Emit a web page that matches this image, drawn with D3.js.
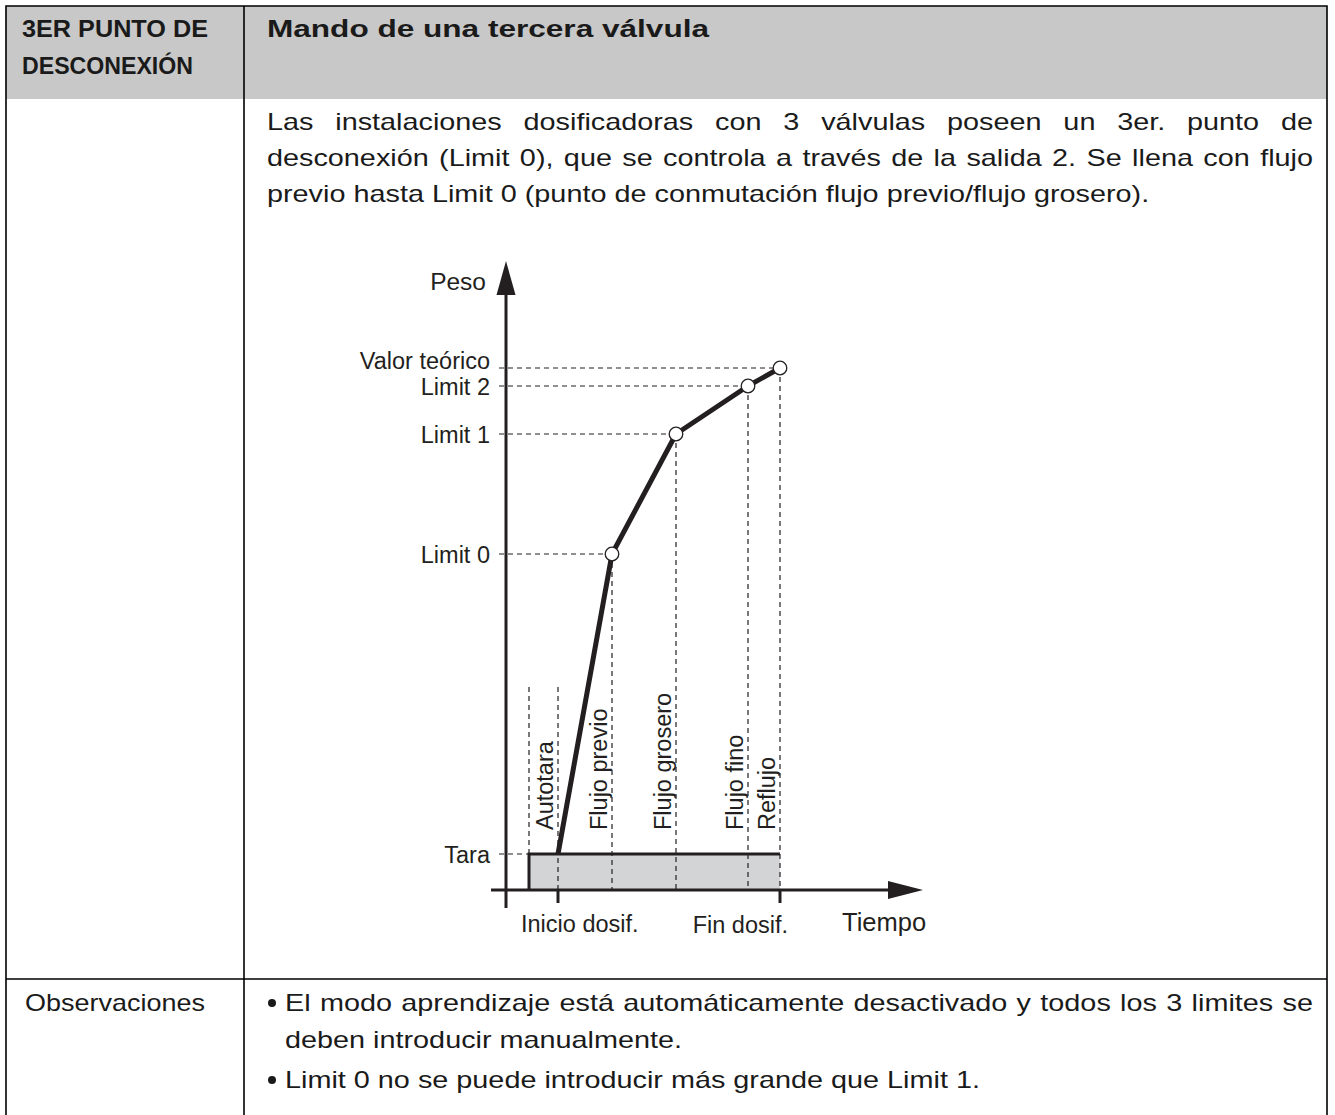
<!DOCTYPE html>
<html>
<head>
<meta charset="utf-8">
<script src="https://cdn.jsdelivr.net/npm/d3@7"></script>
<style>
  body { margin: 0; background: #fff; }
  svg text { fill: #1a1a1a; }
  .hdr { font-family: "Liberation Sans", Arial, sans-serif; font-weight: bold; font-size: 24px; }
  .body { font-family: "Liberation Sans", Arial, sans-serif; font-size: 24px; }
  .dia { font-family: "Liberation Sans", Arial, sans-serif; font-size: 23.5px; fill: #231f20; }
</style>
</head>
<body>
<svg id="page" width="1335" height="1115"></svg>
<script>
// diagram values (time units along x, weight units along y)
const levelNames = ["Tara", "Limit 0", "Limit 1", "Limit 2", "Valor teórico"];
const levelWeights = [6, 56, 76, 84, 87];
const levelTimes = [13, 26.5, 42.5, 60.5, 68.5];
const phaseNames = ["Autotara", "Flujo previo", "Flujo grosero", "Flujo fino", "Reflujo"];
const phaseStarts = [5.75, 13, 26.5, 42.5, 60.5];
const phaseEnds = [13, 26.5, 42.5, 60.5, 68.5];
const timeTicks = [13, 68.5];
const timeTickLabels = ["Inicio dosif.", "Fin dosif."];

const headLeft = ["3ER PUNTO DE", "DESCONEXIÓN"];
const headRight = "Mando de una tercera válvula";
const introLines = [
  "Las instalaciones dosificadoras con 3 válvulas poseen un 3er. punto de",
  "desconexión (Limit 0), que se controla a través de la salida 2. Se llena con flujo",
  "previo hasta Limit 0 (punto de conmutación flujo previo/flujo grosero)."
];
const noteTitle = "Observaciones";
const noteItems = [
  ["El modo aprendizaje está automáticamente desactivado y todos los 3 limites se", "deben introducir manualmente."],
  ["Limit 0 no se puede introducir más grande que Limit 1."]
];

const W = 1335, H = 1115,
  tLeft = 6, tRight = 1327, tTop = 6, colX = 244, headBottom = 99, rowY = 979,
  textX = 267, textRight = 1313,
  widen = 1.2; // body face of the original is wider than Liberation Sans

const svg = d3.select("#page");

// table
svg.append("rect").attr("x", tLeft).attr("y", tTop)
  .attr("width", tRight - tLeft).attr("height", headBottom - tTop)
  .attr("fill", "#c8c8c8");
const border = svg.append("g").attr("stroke", "#000").attr("stroke-width", 1.6).attr("fill", "none");
border.append("path").attr("d", `M${tLeft},${H + 2}V${tTop}H${tRight}V${H + 2}`);
border.append("line").attr("x1", colX).attr("x2", colX).attr("y1", tTop).attr("y2", H + 2);
border.append("line").attr("x1", tLeft).attr("x2", tRight).attr("y1", rowY).attr("y2", rowY);

const headLeftWidths = [186, 171];
headLeft.forEach((t, i) => {
  svg.append("text").attr("class", "hdr").attr("x", 22).attr("y", 37 + i * 37)
    .attr("textLength", headLeftWidths[i]).attr("lengthAdjust", "spacingAndGlyphs")
    .text(t);
});
svg.append("text").attr("class", "hdr").attr("x", textX).attr("y", 37)
  .attr("textLength", 442).attr("lengthAdjust", "spacingAndGlyphs")
  .text(headRight);

// one line of body text, words widened; justified lines fill the width
function drawLine(g, cls, text, x, y, width, justify) {
  const words = text.split(" ");
  const nodes = words.map(w => g.append("text").attr("class", cls).attr("y", y).text(w));
  const widths = nodes.map(n => {
    const w = n.node().getComputedTextLength() * widen;
    n.attr("textLength", w).attr("lengthAdjust", "spacingAndGlyphs");
    return w;
  });
  const gap = justify ? (width - d3.sum(widths)) / (words.length - 1) : 24 * 0.278 * widen;
  let cx = x;
  nodes.forEach((n, i) => { n.attr("x", cx); cx += widths[i] + gap; });
}

introLines.forEach((t, i) => {
  drawLine(svg, "body", t, textX, 130 + i * 36, textRight - textX, i < introLines.length - 1);
});

svg.append("text").attr("class", "body").attr("x", 25).attr("y", 1011)
  .attr("textLength", 180).attr("lengthAdjust", "spacingAndGlyphs").text(noteTitle);
let ny = 1011;
noteItems.forEach(item => {
  svg.append("circle").attr("cx", 272).attr("cy", ny - 8).attr("r", 4).attr("fill", "#1a1a1a");
  item.forEach((t, j) => {
    drawLine(svg, "body", t, 285, ny, textRight - 285, j < item.length - 1);
    ny += 37;
  });
  ny += 3;
});

// diagram
const x = d3.scaleLinear().domain([0, 100]).range([506, 906]);
const y = d3.scaleLinear().domain([0, 100]).range([890, 290]);
const dia = svg.append("g");
const dash = "5,4";

// tara band
const taraY = y(levelWeights[0]);
dia.append("rect")
  .attr("x", x(phaseStarts[0])).attr("y", taraY)
  .attr("width", x(timeTicks[1]) - x(phaseStarts[0]))
  .attr("height", y(0) - taraY)
  .attr("fill", "#d3d4d6");

const dashed = dia.append("g").attr("stroke", "#231f20").attr("stroke-width", 1.2)
  .attr("stroke-dasharray", dash).attr("fill", "none");

// horizontal guides to each level
levelWeights.forEach((w, i) => {
  const xe = i === 0 ? x(phaseStarts[0]) : x(levelTimes[i]);
  dashed.append("line").attr("x1", 499).attr("x2", xe).attr("y1", y(w)).attr("y2", y(w));
});
// vertical guides: autotara edges tall, others from the curve point
dashed.append("line").attr("x1", x(phaseStarts[0])).attr("x2", x(phaseStarts[0]))
  .attr("y1", 687).attr("y2", y(0));
dashed.append("line").attr("x1", x(levelTimes[0])).attr("x2", x(levelTimes[0]))
  .attr("y1", 687).attr("y2", y(0));
levelTimes.slice(1).forEach((t, i) => {
  dashed.append("line").attr("x1", x(t)).attr("x2", x(t))
    .attr("y1", y(levelWeights[i + 1])).attr("y2", y(0));
});

// tara outline
dia.append("path")
  .attr("d", `M${x(phaseStarts[0])},${y(0)}V${taraY}H${x(timeTicks[1])}`)
  .attr("fill", "none").attr("stroke", "#231f20").attr("stroke-width", 3);

// weight curve
const curve = levelTimes.map((t, i) => [x(t), y(levelWeights[i])]);
dia.append("path").attr("d", d3.line()(curve))
  .attr("fill", "none").attr("stroke", "#231f20").attr("stroke-width", 5)
  .attr("stroke-linejoin", "round");

// axes
const axes = dia.append("g").attr("stroke", "#231f20").attr("stroke-width", 3).attr("fill", "none");
axes.append("line").attr("x1", x(0)).attr("x2", x(0)).attr("y1", 908).attr("y2", 292);
axes.append("line").attr("x1", 491).attr("x2", 890).attr("y1", y(0)).attr("y2", y(0));
dia.append("path").attr("d", `M${x(0)},261L${x(0) + 9.5},295L${x(0) - 9.5},295Z`).attr("fill", "#231f20");
dia.append("path").attr("d", `M923,${y(0)}L888,${y(0) - 9}L888,${y(0) + 9}Z`).attr("fill", "#231f20");
timeTicks.forEach(t => {
  axes.append("line").attr("x1", x(t)).attr("x2", x(t)).attr("y1", y(0)).attr("y2", 903);
});

// level points
dia.selectAll("circle.pt").data(levelTimes.slice(1)).enter().append("circle")
  .attr("class", "pt")
  .attr("cx", d => x(d))
  .attr("cy", (d, i) => y(levelWeights[i + 1]))
  .attr("r", 6.8)
  .attr("fill", "#fff").attr("stroke", "#231f20").attr("stroke-width", 1.3);

// labels
levelNames.forEach((n, i) => {
  const last = i === levelNames.length - 1;
  dia.append("text").attr("class", "dia")
    .attr("x", 490).attr("y", y(levelWeights[i]) + (last ? 1 : 8.5))
    .attr("text-anchor", "end").text(n);
});
dia.append("text").attr("class", "dia").attr("x", 486).attr("y", 290)
  .attr("text-anchor", "end").style("font-size", "24.5px").text("Peso");
dia.append("text").attr("class", "dia").attr("x", 842).attr("y", 931)
  .style("font-size", "25.5px").text("Tiempo");
dia.append("text").attr("class", "dia").attr("x", x(timeTicks[0]) - 37).attr("y", 932)
  .text(timeTickLabels[0]);
dia.append("text").attr("class", "dia").attr("x", x(timeTicks[1]) + 8).attr("y", 933)
  .attr("text-anchor", "end").text(timeTickLabels[1]);

phaseNames.forEach((n, i) => {
  dia.append("text").attr("class", "dia")
    .attr("transform", `translate(${x(phaseEnds[i]) - 5},830) rotate(-90)`)
    .text(n);
});
</script>
</body>
</html>
